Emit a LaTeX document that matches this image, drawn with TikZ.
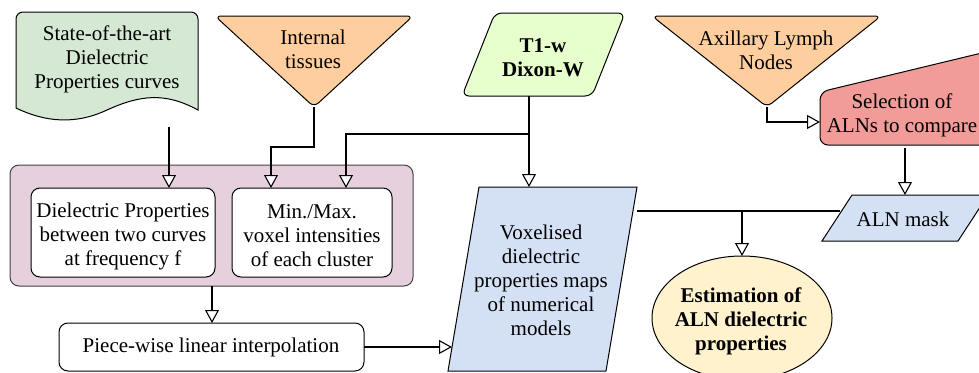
\documentclass[tikz,border=0pt]{standalone}
\usepackage{fontspec}
\setmainfont{Liberation Serif}
\usetikzlibrary{arrows.meta,shapes.geometric}

\definecolor{docgreen}{HTML}{D5E8D4}
\definecolor{inorange}{HTML}{FFCE9F}
\definecolor{mrigreen}{HTML}{E6FFCC}
\definecolor{selred}{HTML}{F19C99}
\definecolor{mapblue}{HTML}{D4E1F5}
\definecolor{resyellow}{HTML}{FFF2CC}
\definecolor{grouppink}{HTML}{E6D0DE}

\tikzset{
  lbl/.style={font=\fontsize{21}{24}\selectfont, align=center, inner sep=0pt},
  blbl/.style={lbl, font=\fontsize{21}{24}\selectfont\bfseries},
  shapeline/.style={draw=black, line width=1pt},
  conn/.style={draw=black, line width=1.2pt, line join=miter,
    -{Triangle[fill=white, length=13pt, width=14pt, line width=1.1pt]}},
  plainconn/.style={draw=black, line width=1.2pt},
}

\begin{document}
\begin{tikzpicture}[x=1pt, y=-1pt]
\useasboundingbox (0,0) rectangle (979,372);
\clip (0,0) rectangle (979,372);

% ---------- input shapes ----------
% document: dielectric property curves
\path[shapeline, fill=docgreen, rounded corners=7pt]
  (16,60) -- (16,12) -- (198,12) -- (198,60) [sharp corners] -- (198,110)
  .. controls (165,92) and (140,95) .. (107,110)
  .. controls (75,125) and (45,122) .. (16,108) -- cycle;
\node[lbl] (doc) at (107,59) {State-of-the-art\\Dielectric\\Properties curves};
\coordinate (docout) at (169,127);

% inverted triangle: internal tissues
\path[shapeline, fill=inorange, rounded corners=6pt]
  (215,16) -- (413,16) -- (314,107) -- cycle;
\node[lbl] (tis) at (313,49) {Internal\\tissues};
\coordinate (tisout) at (314,107);

% parallelogram: T1-w image
\path[shapeline, fill=mrigreen, rounded corners=7pt]
  (462,96) -- (592,96) -- (625,13) -- (495,13) -- cycle;
\node[blbl] (t1) at (543,58) {T1-w\\Dixon-W};
\coordinate (t1out) at (529,96);
\coordinate (t1split) at (529,134);

% inverted triangle: axillary lymph nodes
\path[shapeline, fill=inorange, rounded corners=6pt]
  (652,16) -- (881,16) -- (767,107) -- cycle;
\node[lbl] (aln) at (766,50) {Axillary Lymph\\Nodes};
\coordinate (alnout) at (767,107);

% manual input: selection of ALNs
\path[shapeline, fill=selred, rounded corners=8pt]
  (820,145) -- (820,92) -- (990,51) -- (990,145) -- cycle;
\node[lbl] (sel) at (902,115) {Selection of\\ALNs to compare};
\coordinate (selin) at (820,122);
\coordinate (selout) at (905,148);

% ---------- processing group ----------
\path[draw=black!75, line width=1pt, fill=grouppink, rounded corners=9pt]
  (10,165) rectangle (413,286);
\path[shapeline, fill=white, rounded corners=9pt] (31,188) rectangle (215,277);
\path[shapeline, fill=white, rounded corners=9pt] (232,188) rectangle (392,277);
\node[lbl] (dp) at (123,236) {Dielectric Properties\\between two curves\\at frequency f};
\node[lbl] (mm) at (312,236) {Min./Max.\\voxel intensities\\of each cluster};
\coordinate (dpin) at (169,188);
\coordinate (mmin1) at (271,188);
\coordinate (mmin2) at (346,188);
\coordinate (grpout) at (212,286);

% piece-wise interpolation
\path[shapeline, fill=white, rounded corners=9pt] (59,323) rectangle (364,371);
\node[lbl] (pw) at (211,347) {Piece-wise linear interpolation};
\coordinate (pwin) at (212,323);
\coordinate (pwout) at (364,347);

% ---------- maps and result ----------
\path[shapeline, fill=mapblue]
  (448,371) -- (606,371) -- (637,187) -- (479,187) -- cycle;
\node[lbl] (vox) at (541,280) {Voxelised\\dielectric\\properties maps\\of numerical\\models};
\coordinate (voxin) at (529,187);
\coordinate (voxleft) at (452,347);
\coordinate (voxout) at (637,211);

\path[shapeline, fill=mapblue]
  (822,241) -- (958,241) -- (988,195) -- (852,195) -- cycle;
\node[lbl] (mask) at (903,219) {ALN mask};
\coordinate (maskin) at (905,195);
\coordinate (maskleft) at (840,211);

\path[shapeline, fill=resyellow] (742,318) ellipse [x radius=90, y radius=62];
\node[blbl] (est) at (741,321) {Estimation of\\ALN dielectric\\properties};
\coordinate (estin) at (742,256);
\coordinate (estsplit) at (742,211);

% ---------- connectors ----------
\draw[conn] (docout) -- (dpin);
\draw[conn] (tisout) -- (314,147) -| (mmin1);
\draw[conn] (t1out) -- (voxin);
\draw[conn] (t1split) -| (mmin2);
\draw[conn] (alnout) |- (selin);
\draw[conn] (selout) -- (maskin);
\draw[plainconn] (voxout) -- (maskleft);
\draw[conn] (estsplit) -- (estin);
\draw[conn] (grpout) -- (pwin);
\draw[conn] (pwout) -- (voxleft);
\end{tikzpicture}
\end{document}
